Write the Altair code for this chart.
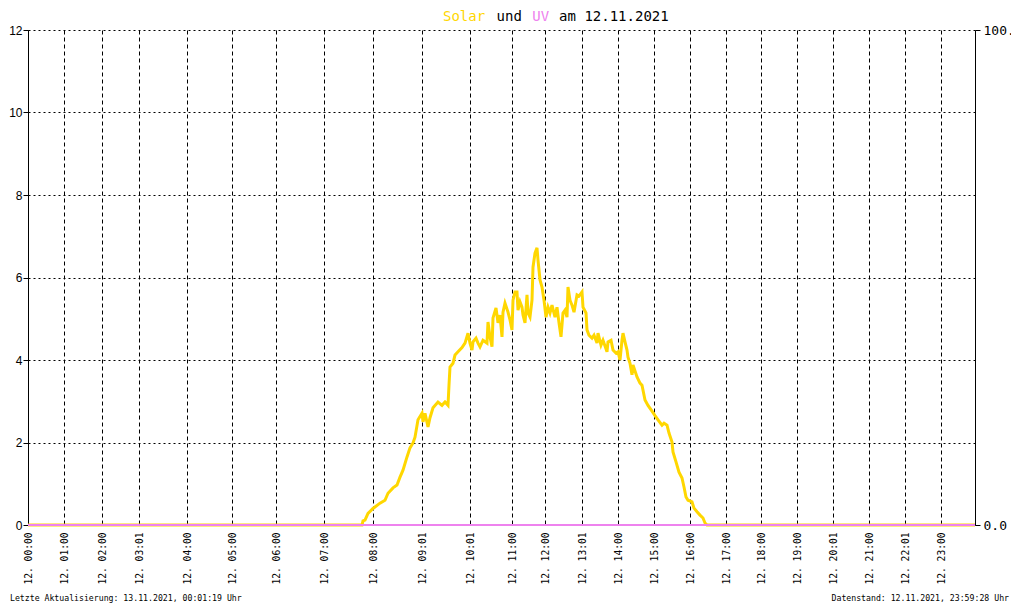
import altair as alt
import pandas as pd

# ---- data ----
tick_idx = [0, 36, 74, 111, 159, 204, 248, 296, 345, 394, 442, 484, 517, 554,
            590, 626, 662, 698, 733, 769, 805, 841, 877, 913]
tick_labels = ["12. 00:00", "12. 01:00", "12. 02:00", "12. 03:01", "12. 04:00",
               "12. 05:00", "12. 06:00", "12. 07:00", "12. 08:00", "12. 09:01",
               "12. 10:01", "12. 11:00", "12. 12:00", "12. 13:01", "12. 14:00",
               "12. 15:00", "12. 16:00", "12. 17:00", "12. 18:00", "12. 19:00",
               "12. 20:01", "12. 21:00", "12. 22:01", "12. 23:00"]

solar_idx = [0, 334, 335, 337, 340, 345, 352, 357, 360, 365, 369, 372, 375, 379,
             382, 385, 387, 390, 394, 395, 397, 400, 402, 405, 410, 414, 417, 420,
             421, 422, 425, 427, 430, 434, 437, 440, 442, 444, 445, 448, 450, 452,
             455, 459, 460, 462, 464, 465, 468, 470, 472, 474, 475, 477, 480, 482,
             484, 485, 487, 489, 490, 492, 494, 495, 497, 499, 500, 502, 504, 505,
             507, 509, 510, 512, 514, 516, 518, 520, 522, 524, 527, 529, 531, 533,
             535, 537, 539, 540, 542, 544, 546, 549, 551, 554, 555, 558, 559, 561,
             564, 566, 569, 570, 573, 575, 579, 580, 583, 585, 588, 590, 592, 594,
             595, 597, 599, 600, 602, 604, 605, 609, 612, 614, 617, 620, 624, 627,
             630, 634, 636, 639, 641, 644, 645, 648, 651, 654, 656, 658, 660, 664,
             666, 669, 672, 675, 677, 679, 947]
solar_val = [0.0, 0.0, 0.1, 0.12, 0.28, 0.4, 0.53, 0.6, 0.77, 0.9, 0.97, 1.16, 1.33, 1.65,
             1.87, 1.99, 2.13, 2.55, 2.71, 2.5, 2.71, 2.38, 2.6, 2.84, 2.98, 2.9, 2.98, 2.9,
             3.39, 3.83, 3.92, 4.12, 4.2, 4.3, 4.41, 4.65, 4.41, 4.24, 4.44, 4.53, 4.41, 4.32,
             4.48, 4.41, 4.92, 4.56, 4.32, 5.02, 5.26, 4.9, 5.09, 4.56, 5.16, 5.38, 5.16, 4.97,
             4.73, 5.45, 5.65, 5.65, 5.21, 5.41, 5.28, 5.09, 4.9, 5.58, 5.14, 5.04, 5.45, 6.25,
             6.59, 6.72, 6.42, 5.94, 5.77, 5.45, 5.04, 5.28, 5.14, 5.33, 5.04, 5.28, 4.9, 4.56,
             5.14, 5.21, 5.04, 5.77, 5.45, 5.33, 5.16, 5.58, 5.55, 5.65, 5.28, 5.14, 4.73, 4.6,
             4.53, 4.6, 4.41, 4.65, 4.36, 4.48, 4.2, 4.44, 4.48, 4.24, 4.17, 4.2, 4.0, 4.48,
             4.65, 4.44, 4.24, 4.07, 3.92, 3.64, 3.88, 3.59, 3.44, 3.39, 3.03, 2.9, 2.76, 2.65,
             2.55, 2.42, 2.47, 2.42, 2.23, 2.01, 1.77, 1.53, 1.28, 1.14, 0.92, 0.68, 0.6, 0.56,
             0.41, 0.32, 0.24, 0.17, 0.05, 0.0, 0.0]

uv_idx = [0, 947]
uv_val = [0.0, 0.0]

y_left_ticks = [0, 2, 4, 6, 8, 10, 12]
y_right_ticks = [0, 100]

title_parts = ["Solar", "und", "UV", "am 12.11.2021"]
title_colors = ["#FFD700", "#000000", "#EE82EE", "#000000"]
footer_left = "Letzte Aktualisierung: 13.11.2021, 00:01:19 Uhr"
footer_right = "Datenstand: 12.11.2021, 23:59:28 Uhr"

# ---- build ----
solar_df = pd.DataFrame({"i": solar_idx, "v": solar_val})
uv_df = pd.DataFrame({"i": uv_idx, "v": uv_val})

TITLE_FS = 14
ADV = 8.93  # character cell width of the title font
title_x0 = 415
xs = []
offset = 0
for p in title_parts:
    xs.append(title_x0 + offset * ADV)
    offset += len(p) + 1

lab_arr = "[" + ",".join("'%s'" % l for l in tick_labels) + "]"
idx_arr = "[" + ",".join(str(v) for v in tick_idx) + "]"
label_expr = "%s[indexof(%s, datum.value)]" % (lab_arr, idx_arr)

x_scale = alt.Scale(domain=[0, 947], nice=False, zero=False)
x_axis = alt.Axis(values=tick_idx, labelExpr=label_expr, labelAngle=270,
                  labelFont="DejaVu Sans Mono", labelFontSize=9.6, labelColor="black",
                  ticks=False, domain=False, labelPadding=7, labelOverlap=False,
                  labelFlush=False, labelBound=False, grid=True, gridColor="black",
                  gridDash=[4, 3], gridWidth=1, gridOpacity=1, title=None)
x_enc = alt.X("i:Q", scale=x_scale, axis=x_axis)

solar = alt.Chart(solar_df).mark_line(color="#FFD700", strokeWidth=3).encode(
    x=x_enc,
    y=alt.Y("v:Q", scale=alt.Scale(domain=[0, 12], nice=False, zero=True),
            axis=alt.Axis(values=y_left_ticks, orient="left", grid=True, gridDash=[2, 3],
                          gridColor="black", gridOpacity=1, tickSize=5, tickColor="black",
                          domainColor="black", labelFont="Liberation Sans", labelFontSize=12,
                          labelColor="black", labelPadding=1, title=None)),
)

uv = alt.Chart(uv_df).mark_line(color="#EE82EE", strokeWidth=2).encode(
    x=x_enc,
    y=alt.Y("v:Q", scale=alt.Scale(domain=[0, 100], nice=False, zero=True),
            axis=alt.Axis(values=y_right_ticks, orient="right", format=".1f", grid=False,
                          tickSize=5, tickColor="black", domainColor="black",
                          labelFont="DejaVu Sans Mono", labelFontSize=13, labelColor="black",
                          labelPadding=3, title=None)),
)

title_layers = []
for p, c, xv in zip(title_parts, title_colors, xs):
    title_layers.append(
        alt.Chart(pd.DataFrame({"t": [p]})).mark_text(
            font="DejaVu Sans Mono", fontSize=TITLE_FS, align="left",
            baseline="alphabetic", color=c
        ).encode(x=alt.value(xv), y=alt.value(-9), text="t:N")
    )

fl = alt.Chart(pd.DataFrame({"t": [footer_left]})).mark_text(
    font="DejaVu Sans Mono", fontSize=8.2, align="left", baseline="alphabetic", color="black"
).encode(x=alt.value(-18), y=alt.value(571), text="t:N")

fr = alt.Chart(pd.DataFrame({"t": [footer_right]})).mark_text(
    font="DejaVu Sans Mono", fontSize=8.2, align="right", baseline="alphabetic", color="black"
).encode(x=alt.value(981), y=alt.value(571), text="t:N")

chart = alt.layer(solar, uv, *title_layers, fl, fr).resolve_scale(y="independent").properties(
    width=947, height=495,
    autosize=alt.AutoSizeParams(type="none"),
    padding={"left": 20, "top": 22, "right": 36, "bottom": 81},
    background="white",
).configure_view(strokeWidth=0)

chart.save("out.html", embed_options={"renderer": "svg", "actions": False})
